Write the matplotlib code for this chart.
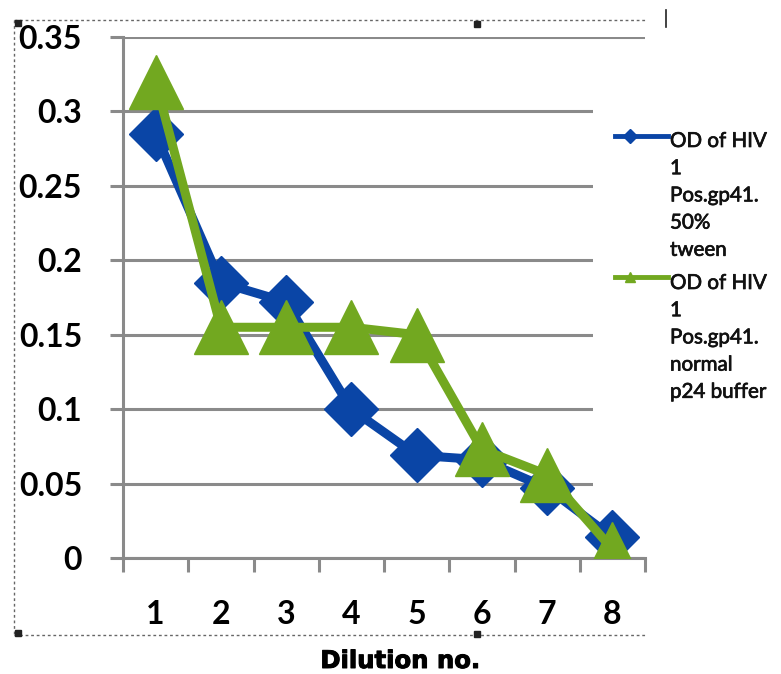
import matplotlib
matplotlib.use("Agg")
import matplotlib.pyplot as plt
import matplotlib.patheffects as pe
from matplotlib.lines import Line2D
from matplotlib.patches import Rectangle

# ---- data ----
dilutions = [1, 2, 3, 4, 5, 6, 7, 8]
tween_od = [0.285, 0.185, 0.172, 0.100, 0.069, 0.066, 0.047, 0.014]
normal_od = [0.320, 0.155, 0.155, 0.155, 0.150, 0.073, 0.056, 0.006]
ytick_vals = [0, 0.05, 0.1, 0.15, 0.2, 0.25, 0.3, 0.35]
ytick_labels = ["0", "0.05", "0.1", "0.15", "0.2", "0.25", "0.3", "0.35"]
legend_labels = ["OD of HIV\n1\nPos.gp41.\n50%\ntween",
                 "OD of HIV\n1\nPos.gp41.\nnormal\np24 buffer"]
xlabel = "Dilution no."

BLUE = "#0a45a6"
GREEN = "#72a820"
GRID = "#8a8a8a"

W, H = 781, 674
fig = plt.figure(figsize=(W / 100, H / 100), dpi=100)
fig.patch.set_facecolor("white")

def fx(px):
    return px / W

def fy(py):
    return 1 - py / H

ax = fig.add_axes([fx(123), fy(558), fx(645) - fx(123), fy(37) - fy(558)])
ax.set_xlim(0.5, 8.5)
ax.set_ylim(0, 0.35)

for s in ["top", "right"]:
    ax.spines[s].set_visible(False)
for s in ["left", "bottom"]:
    ax.spines[s].set_color(GRID)
    ax.spines[s].set_linewidth(2.2)

ax.set_axisbelow(True)
ax.set_yticks(ytick_vals)
ax.set_yticklabels(ytick_labels)
ax.yaxis.grid(True, color=GRID, linewidth=2.2)
ax.tick_params(axis="y", length=9.5, width=2.2, color=GRID, pad=20,
               labelsize=23)
ax.set_xticks(dilutions)
ax.set_xticklabels([str(d) for d in dilutions])
ax.set_xticks([d - 0.5 for d in dilutions] + [8.5], minor=True)
ax.tick_params(axis="x", which="major", length=0, pad=30, labelsize=23)
ax.tick_params(axis="x", which="minor", length=10, width=2.2, color=GRID)
for lab in ax.get_yticklabels() + ax.get_xticklabels():
    lab.set_fontfamily(["Lato", "DejaVu Sans"])
    lab.set_fontweight("bold")

# white area behind the legend that hides the gridlines
ax.add_patch(Rectangle((0.9004, 0.12), 0.2, 0.77, transform=ax.transAxes,
                       facecolor="white", edgecolor="none", zorder=1.5,
                       clip_on=False))

ax.plot(dilutions, tween_od, color=BLUE, linewidth=6.5, marker="D",
        markersize=28, zorder=3, solid_joinstyle="miter")
ax.plot(dilutions, normal_od, color=GREEN, linewidth=6.5, marker="^",
        markersize=39, zorder=4, solid_joinstyle="miter")

# legend (handles aligned with first text line, as in the original)
for (ypx, top, col, mk, lab) in [(136, 131, BLUE, "D", legend_labels[0]),
                                 (277, 273, GREEN, "^", legend_labels[1])]:
    fig.add_artist(Line2D([fx(615), fx(668)], [fy(ypx), fy(ypx)],
                          color=col, linewidth=3.5))
    fig.add_artist(Line2D([fx(630)], [fy(ypx)], color=col, marker=mk,
                          markersize=7, linestyle="none"))
    fig.text(fx(670), fy(top), lab, ha="left", va="top", fontsize=14.8,
             family=["Lato", "DejaVu Sans"], linespacing=1.45, color="#111111",
             path_effects=[pe.withStroke(linewidth=0.5, foreground="#111111")])

fig.text(fx(400), fy(668), xlabel, ha="center", va="baseline", fontsize=17.5,
         fontweight="heavy", family="DejaVu Sans",
         path_effects=[pe.withStroke(linewidth=0.7, foreground="black")])

# dotted selection frame of the chart object
dot = dict(color="#666666", linewidth=1.0, linestyle=(0, (2, 2)))
fig.add_artist(Line2D([fx(14), fx(645)], [fy(20), fy(20)], **dot))
fig.add_artist(Line2D([fx(14), fx(645)], [fy(635), fy(635)], **dot))
fig.add_artist(Line2D([fx(14), fx(14)], [fy(20), fy(635)], **dot))
for (px, py) in [(18, 23), (477, 24), (18, 633), (477, 634)]:
    fig.add_artist(Line2D([fx(px)], [fy(py)], color="#222222", marker="s",
                          markersize=4, linestyle="none"))
fig.add_artist(Line2D([fx(666), fx(666)], [fy(10), fy(27)], color="#222222",
                      linewidth=1.2))

fig.savefig("out.png", dpi=100, facecolor="white")
